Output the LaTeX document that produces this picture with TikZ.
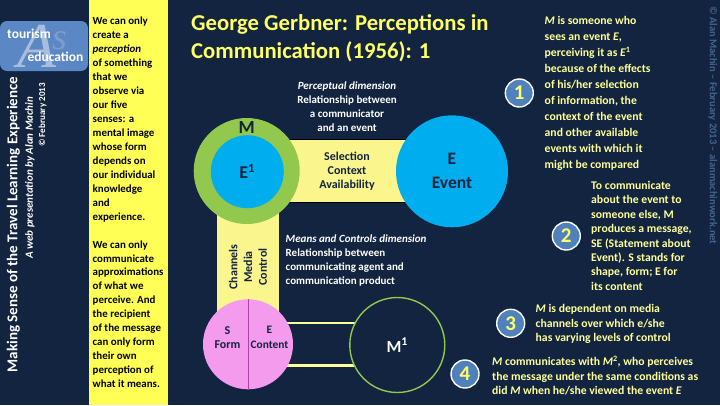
\documentclass[tikz,border=0pt]{standalone}
\usepackage{fontspec}
\setmainfont{Carlito}
\definecolor{bgc}{HTML}{12243F}
\definecolor{colyel}{HTML}{FFFF55}
\definecolor{paleyel}{HTML}{FFFF99}
\definecolor{bandyel}{HTML}{FAF58C}
\definecolor{mgreen}{HTML}{92C84E}
\definecolor{eblue}{HTML}{00AEEF}
\definecolor{pinkc}{HTML}{F49BEE}
\definecolor{pinkl}{HTML}{B040B0}
\definecolor{logoc}{HTML}{5B87C5}
\definecolor{logoa}{HTML}{A9BEDD}
\definecolor{logos}{HTML}{7F9CCD}
\definecolor{numc}{HTML}{4F81BD}
\definecolor{titley}{HTML}{FFFF66}
\definecolor{wmark}{HTML}{46648F}
\tikzset{
  fs/.style={font=\fontsize{#1}{#1}\selectfont\bfseries},
  blockt/.style n args={3}{anchor=north west,inner sep=0pt,align=left,text=#1,
     font=\fontsize{#2}{#3}\selectfont\bfseries},
  numdisc/.style={circle,draw=white,line width=1.4pt,fill=numc,minimum size=28pt,inner sep=0pt,
     text=titley,font=\fontsize{21}{21}\selectfont\bfseries},
  dim/.style={inner sep=0pt,align=center,text=white,font=\fontsize{11}{14}\selectfont\bfseries},
  lab/.style={inner sep=0pt,align=center,text=bgc},
  sidet/.style={inner sep=0pt,text=white,rotate=90}
}
\begin{document}
\begin{tikzpicture}[x=1pt,y=-1pt]
\useasboundingbox (0,0) rectangle (720,405);
\fill[bgc] (0,0) rectangle (720,405);
% left yellow column
\fill[colyel] (89,0) rectangle (168,405);
% logo
\node[rounded corners=7pt,fill=logoc,minimum width=88pt,minimum height=50pt,inner sep=0pt] (logo) at (44,46) {};
\node[inner sep=0pt,text=logoa,font=\fontsize{64}{64}\selectfont] (logoa) at (37,46) {\fontspec{Liberation Serif}[Scale=1]\itshape A};
\node[inner sep=0pt,text=logos,font=\fontsize{38}{38}\selectfont] (logos) at (60,41) {\fontspec{Liberation Serif}[Scale=1]\itshape s};
\node[inner sep=0pt,text=white,fs=13.5] (logot) at (29,34) {tourism};
\node[inner sep=0pt,text=white,fs=13.5] (logoe) at (55.5,57) {education};
% left side vertical texts
\node[sidet,fs=15,anchor=west] (side1) at (13.3,372.5) {Making Sense of the Travel Learning Experience};
\node[sidet,fs=10.95,anchor=west] (side2) at (30,259) {\itshape A web presentation by  Alan Machin};
\node[sidet,fs=9.1,anchor=west] (side3) at (42.7,147) {© February 2013};
% column text
\node[blockt={black}{10.9}{13.95}] (coltext) at (92.5,17) {We can only\\create a\\\textit{perception}\\of something\\that we\\observe via\\our five\\senses: a\\mental image\\whose form\\depends on\\our individual\\knowledge\\and\\experience.\\[13.95pt]We can only\\communicate\\approximations\\of what we\\perceive. And\\the recipient\\of the message\\can only form\\their own\\perception of\\what it means.};
% title
\node[blockt={titley}{22.7}{27.5}] (title) at (191,14.5) {George Gerbner: Perceptions in\\Communication (1956): 1};
% bands
\fill[black] (250,139) rectangle (410,203);
\fill[bandyel] (250,140) rectangle (410,202);
\fill[bandyel] (216.7,200) rectangle (279.3,320);
\fill[paleyel] (270,321.5) rectangle (360,324);
\fill[paleyel] (270,364) rectangle (360,366.5);
% circles
\node[circle,fill=mgreen,minimum size=106pt,inner sep=0pt] (m) at (246.7,171) {};
\node[circle,fill=eblue,minimum size=73pt,inner sep=0pt,text=bgc,font=\fontsize{18}{18}\selectfont\bfseries] (e1) at (247.3,171.7) {E\textsuperscript{1}};
\node[lab,font=\fontsize{18.5}{18}\selectfont\bfseries] (mlab) at (246.7,127) {M};
\node[circle,fill=eblue,minimum size=112pt,inner sep=0pt] (e) at (452,171.3) {};
\node[lab,font=\fontsize{17.5}{24}\selectfont\bfseries] (elab) at (452,171) {E\\Event};
\node[lab,font=\fontsize{12}{14}\selectfont\bfseries] (sca) at (347,171) {Selection\\Context\\Availability};
\node[lab,rotate=90,font=\fontsize{12}{14.7}\selectfont\bfseries] (cmc) at (248,267) {Channels\\Media\\Control};
\node[circle,fill=pinkc,minimum size=90pt,inner sep=0pt] (form) at (248,344.3) {};
\draw[pinkl,line width=0.8pt] (form.north) -- (form.south);
\node[lab,font=\fontsize{12}{14.5}\selectfont\bfseries] (sf) at (227.5,337.5) {S\\Form};
\node[lab,font=\fontsize{11.4}{14.5}\selectfont\bfseries] (ec) at (269.5,337.5) {E\\Content};
\node[circle,draw=mgreen,line width=1.4pt,fill=bgc,minimum size=95pt,inner sep=0pt,text=white,font=\fontsize{17}{17}\selectfont\bfseries] (m1) at (397.3,345) {M\textsuperscript{1}};
% dimension text
\node[dim] (pd) at (347,107) {\textit{Perceptual dimension}\\Relationship between\\a communicator\\and an event};
\node[anchor=north west,dim,align=left] (mc) at (285.5,235) {\textit{Means and Controls dimension}\\Relationship between\\communicating agent and\\communication product};
% numbered discs
\node[numdisc] (n1) at (519.3,93) {1};
\node[numdisc] (n2) at (566.3,236) {2};
\node[numdisc] (n3) at (510.7,323.3) {3};
\node[numdisc] (n4) at (465,374) {4};
% right texts
\node[blockt={paleyel}{11.7}{16}] (t1) at (544.5,16.5) {\textit{M} is someone who\\sees an event \textit{E},\\perceiving it as \textit{E}\textsuperscript{1}\\because of the effects\\of his/her selection\\of information, the\\context of the event\\and other available\\events with which it\\might be compared};
\node[blockt={paleyel}{11.7}{14.4}] (t2) at (591,181) {To communicate\\about the event to\\someone else, M\\produces a message,\\SE (Statement about\\Event).  S stands for\\shape, form; E for\\its content};
\node[blockt={paleyel}{11.7}{14.3}] (t3) at (535.5,304.5) {\textit{M} is dependent on media\\channels over which e/she\\has varying levels of control};
\node[blockt={paleyel}{11.7}{14.5}] (t4) at (492,356) {\textit{M} communicates with \textit{M}\textsuperscript{2}, who perceives\\the message under the same conditions as\\did \textit{M} when he/she viewed the event \textit{E}};
% watermark
\node[inner sep=0pt,text=wmark,rotate=-90,anchor=west,font=\fontsize{10.5}{10.5}\selectfont\bfseries] (wm) at (712.7,6) {© Alan Machin – February 2013 – alanmachinwork.net};
\end{tikzpicture}
\end{document}
